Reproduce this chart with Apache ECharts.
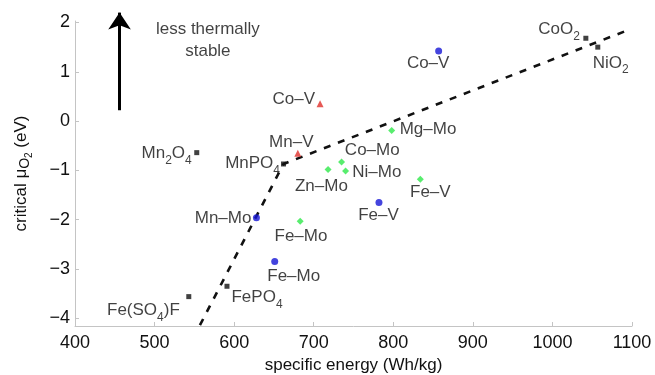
<!DOCTYPE html>
<html>
<head>
<meta charset="utf-8">
<script src="https://cdn.jsdelivr.net/npm/echarts@6/dist/echarts.min.js"></script>
<style>
  html, body { margin: 0; padding: 0; background: #fff; }
  #chart { width: 655px; height: 375px; }
</style>
</head>
<body>
<div id="chart"></div>
<script>
const chart = echarts.init(document.getElementById("chart"));

// ==========================
// DATA
// ==========================

const xTicks = [400, 500, 600, 700, 800, 900, 1000, 1100];
const yTicks = [-4, -3, -2, -1, 0, 1, 2];

// black squares: reference compounds
const blackNames = ["Mn{s|2}O{s|4}", "MnPO{s|4}", "CoO{s|2}", "NiO{s|2}", "Fe(SO{s|4})F", "FePO{s|4}"];
const blackX = [553, 662, 1042, 1057, 543, 591];
const blackY = [-0.64, -0.87, 1.68, 1.50, -3.56, -3.35];

// red triangles
const redNames = ["Co–V", "Mn–V"];
const redX = [708, 680];
const redY = [0.35, -0.65];

// blue circles
const blueNames = ["Co–V", "Mn–Mo", "Fe–Mo", "Fe–V"];
const blueX = [857, 628, 651, 782];
const blueY = [1.42, -1.96, -2.85, -1.65];

// green diamonds
const greenNames = ["Mg–Mo", "Co–Mo", "Ni–Mo", "Zn–Mo", "Fe–V", "Fe–Mo"];
const greenX = [798, 735, 740, 718, 834, 683];
const greenY = [-0.19, -0.83, -1.01, -0.98, -1.18, -2.03];

// dashed guide line
const trendX = [557, 662, 1099];
const trendY = [-4.14, -0.87, 1.87];

// arrow + note
const arrowX = [456, 456];
const arrowY = [0.22, 2.2];
const noteText = "less thermally\nstable";
const noteX = 567;
const noteY = 1.63;

// label placement: [align, dx, dy] in px from the marker
const blackLabelPos = [["right", -5, 1], ["right", -3.5, -0.5], ["right", -6, -9], ["left", -5, 16], ["right", -9, 14], ["left", 4.5, 11.5]];
const redLabelPos = [["right", -5, -4.5], ["center", -6.5, -10.5]];
const blueLabelPos = [["center", -10.5, 12.5], ["right", -5, 0.7], ["center", 19, 15], ["center", -0.5, 12.5]];
const greenLabelPos = [["left", 8, -1.3], ["left", 3.3, -11.4], ["left", 6.7, 1.6], ["center", -6.6, 16.5], ["center", 10, 13.3], ["center", 0.8, 15]];

// ==========================
// HELPERS
// ==========================

const FONT = "Liberation Sans, Arial, Helvetica, sans-serif";
const INK = "#111";
const minus = v => String(v).replace("-", "−");

function points(names, xs, ys, pos) {
  return names.map((n, i) => ({
    value: [xs[i], ys[i]],
    label: {
      formatter: n,
      align: pos[i][0],
      offset: [pos[i][1], pos[i][2]]
    }
  }));
}

const pointLabel = {
  show: true,
  position: "inside",
  verticalAlign: "middle",
  fontFamily: FONT,
  fontSize: 17,
  lineHeight: 20,
  color: INK,
  rich: {
    // subscript: padded on top so it sits below the baseline
    s: { fontFamily: FONT, fontSize: 12, lineHeight: 12, padding: [14, 0, 0, 0], color: INK }
  }
};

function scatter(name, names, xs, ys, pos, symbol, size, color) {
  return {
    name: name,
    type: "scatter",
    symbol: symbol,
    symbolSize: size,
    itemStyle: { color: color },
    label: pointLabel,
    z: 5,
    data: points(names, xs, ys, pos)
  };
}

// ==========================
// OPTION
// ==========================

chart.setOption({
  animation: false,
  grid: { left: 75, right: 23, top: 21, bottom: 49, outerBoundsMode: "none" },

  xAxis: {
    type: "value",
    min: 400,
    max: 1100,
    interval: 100,
    name: "specific energy (Wh/kg)",
    nameLocation: "middle",
    nameGap: 28,
    nameTextStyle: { fontFamily: FONT, fontSize: 17, color: INK },
    axisLine: { show: true, onZero: false, lineStyle: { color: "#c4c4c4", width: 1 } },
    axisTick: { show: true, inside: true, length: 4, lineStyle: { color: "#c4c4c4" } },
    axisLabel: { fontFamily: FONT, fontSize: 18, color: INK, margin: 8, formatter: minus },
    splitLine: { show: false }
  },

  yAxis: {
    type: "value",
    min: -4.156,
    max: 2.03,
    name: "critical μ{o|O}{t|2} (eV)",
    nameLocation: "middle",
    nameGap: 44,
    nameTextStyle: {
      fontFamily: FONT, fontSize: 17, lineHeight: 20, color: INK,
      rich: {
        o: { fontFamily: FONT, fontSize: 14, lineHeight: 14, padding: [8, 0, 0, 0], color: INK },
        t: { fontFamily: FONT, fontSize: 10, lineHeight: 10, padding: [16, 0, 0, 0], color: INK }
      }
    },
    axisLine: { show: true, onZero: false, lineStyle: { color: "#c4c4c4", width: 1 } },
    axisTick: { show: true, inside: true, length: 4, customValues: yTicks, lineStyle: { color: "#c4c4c4" } },
    axisLabel: { fontFamily: FONT, fontSize: 18, color: INK, margin: 5, customValues: yTicks, formatter: minus },
    splitLine: { show: false }
  },

  series: [
    {
      name: "trend",
      type: "line",
      data: trendX.map((x, i) => [x, trendY[i]]),
      symbol: "none",
      clip: false,
      lineStyle: { color: "#111", width: 2.6, type: [7, 8] },
      z: 2,
      silent: true
    },
    {
      name: "arrow",
      type: "lines",
      coordinateSystem: "cartesian2d",
      clip: false,
      silent: true,
      symbol: ["none", "arrow"],
      symbolSize: [11, 17],
      lineStyle: { color: "#000", width: 3, opacity: 1 },
      data: [{ coords: [[arrowX[0], arrowY[0]], [arrowX[1], arrowY[1]]] }]
    },
    {
      name: "note",
      type: "scatter",
      symbolSize: 0,
      silent: true,
      label: {
        show: true,
        position: "inside",
        formatter: noteText,
        fontFamily: FONT,
        fontSize: 17,
        lineHeight: 22,
        align: "center",
        verticalAlign: "middle",
        color: INK
      },
      data: [[noteX, noteY]]
    },
    scatter("black", blackNames, blackX, blackY, blackLabelPos, "rect", 5, "#111"),
    scatter("red", redNames, redX, redY, redLabelPos, "triangle", 7, "#e0302a"),
    scatter("blue", blueNames, blueX, blueY, blueLabelPos, "circle", 7, "#1515d6"),
    scatter("green", greenNames, greenX, greenY, greenLabelPos, "diamond", 7, "#2ee84a")
  ]
});
</script>
</body>
</html>
